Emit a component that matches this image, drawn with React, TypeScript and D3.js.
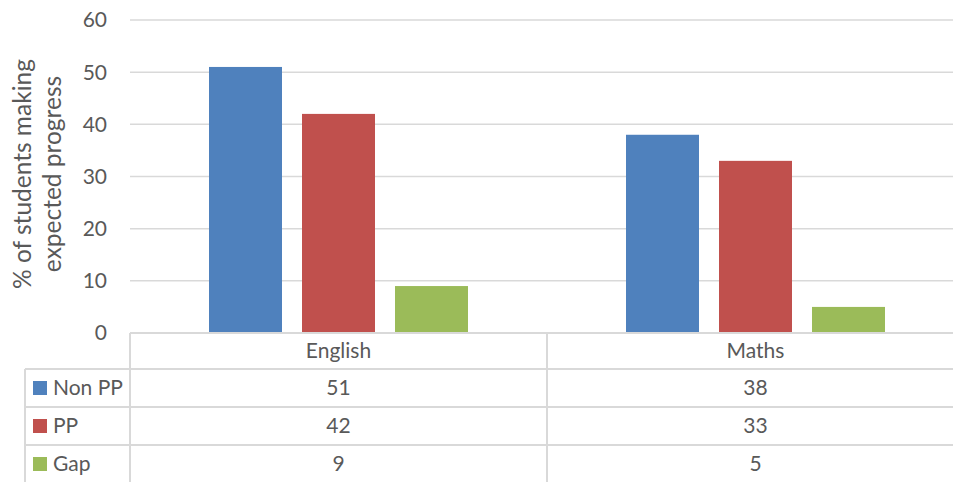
import React from "react";
import * as d3 from "d3";

const categories = ["English", "Maths"];
const seriesNames = ["Non PP", "PP", "Gap"];
const nonPP = [51, 38];
const pp = [42, 33];
const gap = [9, 5];
const yTicks = [0, 10, 20, 30, 40, 50, 60];
const colors = ["#4f81bd", "#c0504d", "#9bbb59"];

const W = 953;
const H = 482;
const FONT = "Lato, 'Open Sans', sans-serif";
const TEXT = "#595959";
const GRID = "#d9d9d9";

export default function App() {
  const series = [nonPP, pp, gap];
  const plotLeft = 130;
  const plotRight = 964;
  const y = d3.scaleLinear().domain([0, 60]).range([333, 20]);
  const x0 = d3.scaleBand().domain(categories).range([plotLeft, plotRight]).paddingInner(0).paddingOuter(0);
  const bw = x0.bandwidth();
  const barW = 73;
  const gapW = 20;
  const groupW = barW * 3 + gapW * 2;
  const x1 = d3
    .scaleBand()
    .domain(seriesNames)
    .range([(bw - groupW) / 2, (bw + groupW) / 2])
    .paddingInner(gapW / (barW + gapW))
    .paddingOuter(0);

  const tableTop = y(0);
  const rowH = 38;
  const headerBottom = tableTop + 36;
  const tableLeft = 25;
  const fs = 21;

  return (
    <svg width={W} height={H} style={{ display: "block", position: "absolute", left: 0, top: 0 }} fontFamily={FONT}>
      <rect width={W} height={H} fill="#fff" />
      {yTicks.map((t) => (
        <g key={t}>
          {t > 0 && <line x1={plotLeft} x2={plotRight} y1={y(t)} y2={y(t)} stroke={GRID} strokeWidth={1.5} />}
          <text x={107} y={y(t)} dy="0.35em" textAnchor="end" fontSize={fs} fill={TEXT}>
            {t}
          </text>
        </g>
      ))}
      <g transform={`translate(0,174) rotate(-90)`}>
        <text textAnchor="middle" fontSize={24.5} fill={TEXT}>
          <tspan x={0} y={31}>% of students making</tspan>
          <tspan x={0} y={61}>expected progress</tspan>
        </text>
      </g>
      {categories.map((c, ci) => (
        <g key={c} transform={`translate(${x0(c)},0)`}>
          {seriesNames.map((s, si) => (
            <rect
              key={s}
              x={x1(s)}
              y={y(series[si][ci])}
              width={x1.bandwidth()}
              height={y(0) - y(series[si][ci])}
              fill={colors[si]}
            />
          ))}
        </g>
      ))}
      {/* data table */}
      <g stroke={GRID} strokeWidth={2} fill="none">
        <line x1={plotLeft} x2={plotRight} y1={tableTop} y2={tableTop} />
        <line x1={tableLeft} x2={plotRight} y1={headerBottom} y2={headerBottom} />
        {[1, 2].map((i) => (
          <line key={i} x1={tableLeft} x2={plotRight} y1={headerBottom + rowH * i} y2={headerBottom + rowH * i} />
        ))}
        <line x1={plotLeft} x2={plotLeft} y1={tableTop} y2={H} />
        <line x1={tableLeft} x2={tableLeft} y1={headerBottom} y2={H} />
        {categories.slice(1).map((c) => (
          <line key={c} x1={x0(c)} x2={x0(c)} y1={tableTop} y2={H} />
        ))}
      </g>
      {categories.map((c) => (
        <text key={c} x={(x0(c) as number) + bw / 2} y={tableTop + 18} dy="0.35em" textAnchor="middle" fontSize={fs} fill={TEXT}>
          {c}
        </text>
      ))}
      {seriesNames.map((s, si) => {
        const cy = headerBottom + rowH * si + rowH / 2;
        return (
          <g key={s}>
            <rect x={33} y={cy - 7} width={14} height={14} fill={colors[si]} />
            <text x={53} y={cy} dy="0.35em" fontSize={fs} fill={TEXT}>
              {s}
            </text>
            {categories.map((c, ci) => (
              <text key={c} x={(x0(c) as number) + bw / 2} y={cy} dy="0.35em" textAnchor="middle" fontSize={fs} fill={TEXT}>
                {series[si][ci]}
              </text>
            ))}
          </g>
        );
      })}
    </svg>
  );
}
